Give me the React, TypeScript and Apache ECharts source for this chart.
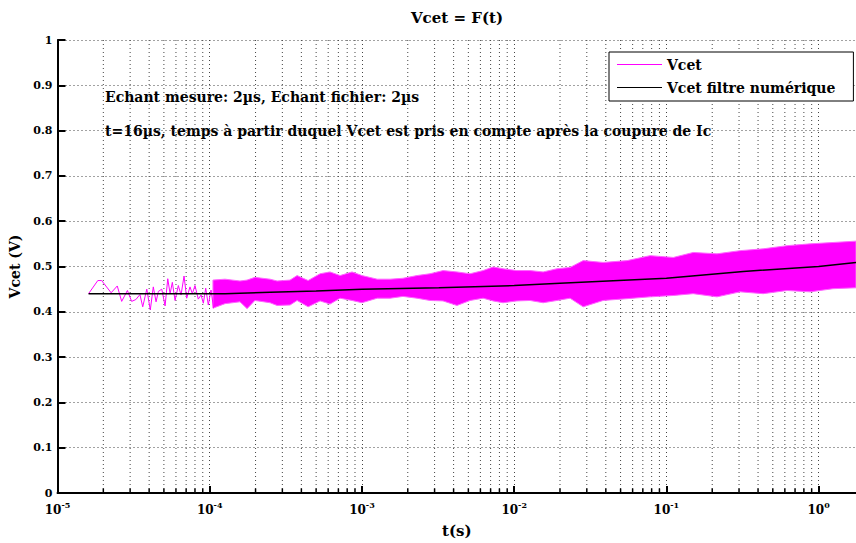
import React, { useEffect, useRef } from 'react';
import * as echarts from 'echarts';

// ---- texts ----
const TITLE = 'Vcet = F(t)';
const X_NAME = 't(s)';
const Y_NAME = 'Vcet (V)';
const SERIES_RAW = 'Vcet';
const SERIES_FILT = 'Vcet filtre numérique';
const NOTE_1 = 'Echant mesure: 2µs, Echant fichier: 2µs';
const NOTE_2 = 't=16µs, temps à partir duquel Vcet est pris en compte après la coupure de Ic';

// ---- axes ----
const X_MIN_T = 1e-5;
const X_MAX_T = 1.76;
const DECADE_EXPONENTS = [-5, -4, -3, -2, -1, 0];
const MINOR_MULTIPLIERS = [2, 3, 4, 5, 6, 7, 8, 9];
const Y_MIN = 0;
const Y_MAX = 1;
const Y_STEP = 0.1;

// ---- Vcet, sparse start (time in s, volts) ----
const rawTimes = [
  1.6e-5, 1.84e-5, 1.95e-5, 2.25e-5, 2.47e-5, 2.64e-5, 2.88e-5, 3.07e-5, 3.27e-5, 3.48e-5,
  3.63e-5, 3.86e-5, 4.07e-5, 4.26e-5, 4.44e-5, 4.6e-5, 4.84e-5, 5.09e-5, 5.3e-5, 5.49e-5,
  5.68e-5, 5.92e-5, 6.22e-5, 6.48e-5, 6.78e-5, 7.06e-5, 7.42e-5, 7.69e-5, 8.0e-5, 8.41e-5,
  8.77e-5, 9.08e-5, 9.41e-5, 9.79e-5, 1.02e-4, 1.06e-4,
];
const rawValues = [
  0.44, 0.469, 0.469, 0.442, 0.457, 0.423, 0.447, 0.423, 0.427, 0.438,
  0.411, 0.45, 0.404, 0.455, 0.422, 0.445, 0.45, 0.413, 0.473, 0.44,
  0.465, 0.425, 0.458, 0.437, 0.479, 0.43, 0.455, 0.44, 0.458, 0.428,
  0.437, 0.419, 0.452, 0.415, 0.448, 0.408,
];

// ---- Vcet, dense part: envelope ----
const bandTimes = [
  1.05e-4, 1.26e-4, 1.58e-4, 1.76e-4, 1.98e-4, 2.49e-4, 2.77e-4, 3.37e-4, 3.75e-4, 4.43e-4,
  5.31e-4, 6.17e-4, 7.18e-4, 8.61e-4, 1.0e-3, 1.26e-3, 1.53e-3, 1.86e-3, 2.3e-3, 2.8e-3,
  3.41e-3, 4.21e-3, 5.13e-3, 6.25e-3, 7.27e-3, 8.45e-3, 1.04e-2, 1.27e-2, 1.55e-2, 1.91e-2,
  2.33e-2, 2.84e-2, 3.84e-2, 5.52e-2, 7.82e-2, 0.111, 0.15, 0.215, 0.305, 0.432,
  0.621, 0.879, 1.245, 1.76,
];
const bandHigh = [
  0.47, 0.472, 0.468, 0.47, 0.476, 0.472, 0.468, 0.47, 0.48, 0.469,
  0.484, 0.488, 0.48, 0.488, 0.48, 0.472, 0.472, 0.474, 0.48, 0.484,
  0.491, 0.488, 0.484, 0.491, 0.499, 0.495, 0.491, 0.491, 0.488, 0.495,
  0.498, 0.513, 0.509, 0.513, 0.524, 0.52, 0.531, 0.528, 0.535, 0.539,
  0.546, 0.55, 0.553, 0.556,
];
const bandLow = [
  0.408, 0.418, 0.422, 0.407, 0.425, 0.42, 0.414, 0.415, 0.425, 0.411,
  0.424, 0.417, 0.43, 0.425, 0.42, 0.43, 0.43, 0.434, 0.43, 0.425,
  0.424, 0.414, 0.425, 0.43, 0.424, 0.42, 0.424, 0.425, 0.42, 0.425,
  0.43, 0.411, 0.425, 0.429, 0.433, 0.436, 0.44, 0.433, 0.444, 0.44,
  0.447, 0.444, 0.451, 0.453,
];

// ---- Vcet filtre numérique ----
const filtTimes = [1.6e-5, 1.26e-4, 1.58e-4, 2.5e-4, 5.0e-4, 1.0e-3, 3.2e-3, 1.0e-2, 2.0e-2, 0.1, 0.32, 1.0, 1.76];
const filtValues = [0.44, 0.44, 0.441, 0.443, 0.446, 0.45, 0.453, 0.458, 0.463, 0.474, 0.489, 0.5, 0.509];

const FONT = '"DejaVu Serif", serif';

export default function App() {
  const ref = useRef<HTMLDivElement>(null);

  useEffect(() => {
    if (!ref.current) return;
    const chart = echarts.init(ref.current, undefined, { renderer: 'svg' });

    const lg = (t: number) => Math.log10(t);
    const minorTimes: number[] = [];
    DECADE_EXPONENTS.forEach((e) => {
      MINOR_MULTIPLIERS.forEach((m) => {
        const t = m * Math.pow(10, e);
        if (t < X_MAX_T) minorTimes.push(t);
      });
    });

    const rawData = rawTimes.map((t, i) => [lg(t), rawValues[i]]);
    const bandData = bandTimes.map((t, i) => [lg(t), bandLow[i], bandHigh[i]]);
    const filtData = filtTimes.map((t, i) => [lg(t), filtValues[i]]);

    const option: any = {
      animation: false,
      backgroundColor: '#fff',
      grid: { left: 57.5, right: 0, top: 40, bottom: 47.3, containLabel: false },
      legend: {
        orient: 'vertical',
        left: 609,
        top: 52,
        data: [
          { name: SERIES_RAW, icon: 'rect', itemStyle: { color: '#ff00ff' } },
          { name: SERIES_FILT, icon: 'rect', itemStyle: { color: '#000' } },
        ],
        itemWidth: 45,
        itemHeight: 1.2,
        itemGap: 6,
        padding: [4, 18, 5, 8],
        borderColor: '#000',
        borderWidth: 1,
        backgroundColor: '#fff',
        textStyle: { fontFamily: FONT, fontWeight: 'bold', fontSize: 14, color: '#000', lineHeight: 17 },
      },
      xAxis: {
        type: 'value',
        min: lg(X_MIN_T),
        max: lg(X_MAX_T),
        interval: 1,
        name: X_NAME,
        nameLocation: 'middle',
        nameGap: 30,
        nameTextStyle: { fontFamily: FONT, fontWeight: 'bold', fontSize: 15, color: '#000' },
        axisLine: { show: true, onZero: false, lineStyle: { color: '#000', width: 2 } },
        axisTick: { show: true, inside: true, length: 7, lineStyle: { color: '#000', width: 2 } },
        axisLabel: {
          showMaxLabel: false,
          margin: 8,
          formatter: (v: number) => {
            const r = Math.round(v);
            if (Math.abs(v - r) > 1e-6 || DECADE_EXPONENTS.indexOf(r) < 0) return '';
            return `{b|10}{s|${r}}`;
          },
          rich: {
            b: { fontFamily: FONT, fontWeight: 'bold', fontSize: 12, color: '#000' },
            s: { fontFamily: FONT, fontWeight: 'bold', fontSize: 8, color: '#000', padding: [0, 0, 9, 0] },
          },
        },
        splitLine: { show: true, lineStyle: { color: '#444', width: 1, type: [1, 3] } },
      },
      yAxis: {
        type: 'value',
        min: Y_MIN,
        max: Y_MAX,
        interval: Y_STEP,
        name: Y_NAME,
        nameLocation: 'middle',
        nameGap: 31,
        nameTextStyle: { fontFamily: FONT, fontWeight: 'bold', fontSize: 14, color: '#000' },
        axisLine: { show: true, onZero: false, lineStyle: { color: '#000', width: 2 } },
        axisTick: { show: true, inside: true, length: 8, lineStyle: { color: '#000', width: 2 } },
        axisLabel: { margin: 5, fontFamily: FONT, fontWeight: 'bold', fontSize: 11, color: '#000' },
        splitLine: { show: true, lineStyle: { color: '#444', width: 1, type: [1, 3] } },
      },
      graphic: [
        {
          type: 'text',
          x: 457,
          y: 18,
          style: { text: TITLE, font: `bold 15px ${FONT}`, fill: '#000', align: 'center', verticalAlign: 'middle' },
        },
        {
          type: 'text',
          x: 105,
          y: 97,
          style: { text: NOTE_1, font: `bold 14px ${FONT}`, fill: '#000', align: 'left', verticalAlign: 'middle' },
        },
        {
          type: 'text',
          x: 105,
          y: 131,
          style: { text: NOTE_2, font: `bold 14px ${FONT}`, fill: '#000', align: 'left', verticalAlign: 'middle' },
        },
      ],
      series: [
        {
          type: 'custom',
          name: 'minor',
          silent: true,
          z: 1,
          data: minorTimes.map((t) => [lg(t), Y_MIN]),
          encode: { x: 0, y: 1 },
          renderItem: (_p: any, api: any) => {
            const x = api.value(0);
            const top = api.coord([x, Y_MAX]);
            const bot = api.coord([x, Y_MIN]);
            return {
              type: 'group',
              children: [
                {
                  type: 'line',
                  shape: { x1: top[0], y1: top[1], x2: bot[0], y2: bot[1] },
                  style: { stroke: '#444', lineWidth: 1, lineDash: [1, 3] },
                },
                {
                  type: 'line',
                  shape: { x1: bot[0], y1: bot[1], x2: bot[0], y2: bot[1] - 4.5 },
                  style: { stroke: '#000', lineWidth: 1.5 },
                },
              ],
            };
          },
        },
        {
          type: 'custom',
          name: 'band',
          silent: true,
          z: 2,
          data: bandData,
          encode: { x: 0, y: [1, 2] },
          renderItem: (p: any, api: any) => {
            if (p.dataIndex !== 0) return null;
            const upper = bandData.map((d) => api.coord([d[0], d[2]]));
            const lower = bandData.map((d) => api.coord([d[0], d[1]])).reverse();
            return {
              type: 'polygon',
              shape: { points: upper.concat(lower) },
              style: { fill: '#ff00ff', stroke: '#ff66ff', lineWidth: 1 },
            };
          },
        },
        {
          name: SERIES_RAW,
          type: 'line',
          z: 3,
          data: rawData,
          symbol: 'none',
          showSymbol: false,
          lineStyle: { color: '#ff00ff', width: 1 },
          itemStyle: { color: '#ff00ff' },
        },
        {
          name: SERIES_FILT,
          type: 'line',
          z: 4,
          data: filtData,
          symbol: 'none',
          showSymbol: false,
          lineStyle: { color: '#000', width: 1.5 },
          itemStyle: { color: '#000' },
        },
      ],
    };

    chart.setOption(option);
    return () => chart.dispose();
  }, []);

  return <div ref={ref} style={{ position: 'fixed', left: 0, top: 0, width: 856, height: 543 }} />;
}
